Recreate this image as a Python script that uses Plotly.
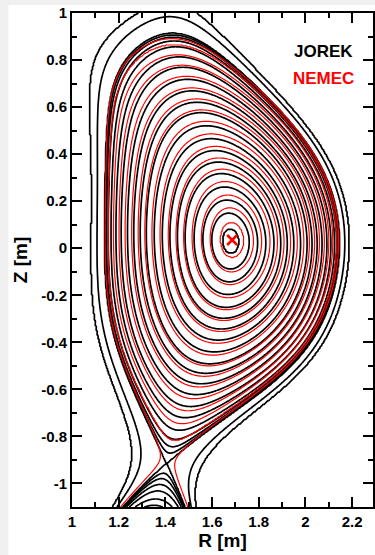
import numpy as np
import plotly.graph_objects as go

# ---------------- data ----------------
# JOREK (black): boundary shape points (R [m], Z [m])
jorek_outer = [2.145, 0.02]
jorek_inner = [1.140, 0.05]
jorek_top = [1.430, 0.913]
jorek_xpoint = [1.405, -0.915]
jorek_axis = [1.680, 0.030]
jorek_curv = [0.64, 0.09, 2.6]            # boundary curvature outer / inner / top
jorek_xtilt = [-12.5]                     # tilt of the X-point cross [deg]
# R [m] where the closed black surfaces cross the outer midplane
jorek_mid_R = [1.716, 1.759, 1.795, 1.830, 1.865, 1.894, 1.922, 1.950, 1.979,
               2.007, 2.028, 2.050, 2.071, 2.092, 2.109, 2.125]
jorek_edge = [0.95, 0.975, 0.99, 1.0]     # normalised flux of near-separatrix lines
# R [m] where open black lines cross Z = 0 on the high-field side
jorek_sol_R = [1.083, 1.107]

# NEMEC (red)
nemec_outer = [2.140, 0.03]
nemec_inner = [1.145, 0.05]
nemec_top = [1.430, 0.885]
nemec_xpoint = [1.410, -0.900]
nemec_axis = [1.686, 0.035]
nemec_curv = [0.66, 0.09, 2.2]
nemec_xtilt = [-12.5]
nemec_mid_R = [1.737, 1.777, 1.812, 1.848, 1.880, 1.908, 1.936, 1.965, 1.993,
               2.017, 2.039, 2.060, 2.081, 2.100, 2.117, 2.132]
nemec_leg = [1.01]                        # normalised flux of the red divertor-leg line

# JOREK computational-domain cut at bottom left (black lines end there)
domain_bl = [1.11, -1.02, -1.6]   # point (R, Z) and slope

# ---------------- 2-D Solov'ev-type equilibrium fit ----------------
COLS = ['cubic', (0, 1)] + [(n, w) for n in range(1, 7) for w in (1, -1j)] + [(7, 1)]


def col_eval(col, U, V, kind):
    U = np.asarray(U, dtype=float)
    V = np.asarray(V, dtype=float)
    if col == 'cubic':
        return {'f': U ** 3, 'u': 3 * U ** 2, 'v': 0 * U, 'uu': 6 * U,
                'vv': 0 * U, 'uv': 0 * U}[kind]
    n, w = col
    z = U + 1j * V
    zero = 0 * z
    if kind == 'f':
        val = w * z ** n
    elif kind == 'u':
        val = w * n * z ** (n - 1) if n >= 1 else zero
    elif kind == 'v':
        val = 1j * w * n * z ** (n - 1) if n >= 1 else zero
    elif kind == 'uu':
        val = w * n * (n - 1) * z ** (n - 2) if n >= 2 else zero
    elif kind == 'vv':
        val = -w * n * (n - 1) * z ** (n - 2) if n >= 2 else zero
    else:
        val = 1j * w * n * (n - 1) * z ** (n - 2) if n >= 2 else zero
    return np.real(val)


def part_eval(U, V, kind):
    U = np.asarray(U, dtype=float)
    return {'f': U * U, 'u': 2 * U, 'v': 0 * U, 'uu': 2 + 0 * U,
            'vv': 0 * U, 'uv': 0 * U}[kind]


def build_equilibrium(outer, inner, top, xpt, axis, curv, xtilt):
    R0 = 0.5 * (outer[0] + inner[0])
    a = 0.5 * (outer[0] - inner[0])
    nrm = lambda p: ((p[0] - R0) / a, p[1] / a)
    po, pi, pt, px, pa = map(nrm, (outer, inner, top, xpt, axis))
    co, ci, ct = curv
    rows, rhs = [], []

    def add(p, combo):
        rows.append([sum(c * col_eval(col, p[0], p[1], k) for k, c in combo)
                     for col in COLS])
        rhs.append(-sum(c * part_eval(p[0], p[1], k) for k, c in combo))

    for p in (po, pi, pt, px):
        add(p, [('f', 1)])
    add(po, [('v', 1)])
    add(pi, [('v', 1)])
    add(pt, [('u', 1)])
    add(px, [('u', 1)])
    add(px, [('v', 1)])
    add(po, [('vv', 1), ('u', -co)])
    add(pi, [('vv', 1), ('u', ci)])
    add(pt, [('uu', 1), ('v', -ct)])
    add(pa, [('u', 1)])
    add(pa, [('v', 1)])
    c, s = np.cos(np.radians(xtilt[0])), np.sin(np.radians(xtilt[0]))
    add(px, [('vv', c * s), ('uu', -c * s), ('uv', c * c - s * s)])
    coef = np.linalg.solve(np.array(rows, dtype=float), np.array(rhs, dtype=float))

    def psi(R, Z):
        U = (np.asarray(R, dtype=float) - R0) / a
        V = np.asarray(Z, dtype=float) / a
        out = part_eval(U, V, 'f')
        for cc, col in zip(coef, COLS):
            out = out + cc * col_eval(col, U, V, 'f')
        return out

    psi_ax = float(psi(axis[0], axis[1]))
    return lambda R, Z: (psi(R, Z) - psi_ax) / (0.0 - psi_ax)


def level_index(psin, levels):
    lv = np.unique(np.round(np.array(levels, dtype=float), 6))
    xp = np.concatenate([[-1e4], lv, [1e4]])
    fp = np.arange(-1, len(lv) + 1, dtype=float)
    return np.interp(psin, xp, fp), len(lv)


Rg = np.linspace(1.0, 2.29, 324)
Zg = np.linspace(-1.1, 1.0, 526)
RR, ZZ = np.meshgrid(Rg, Zg)

# black field
fj = build_equilibrium(jorek_outer, jorek_inner, jorek_top, jorek_xpoint,
                       jorek_axis, jorek_curv, jorek_xtilt)
psi_j = fj(RR, ZZ)
lev_j = [float(fj(r, jorek_axis[1])) for r in jorek_mid_R] + jorek_edge + \
        [float(fj(r, 0.0)) for r in jorek_sol_R]
idx_j, nj = level_index(psi_j, lev_j)
mask_j = ZZ < domain_bl[1] + domain_bl[2] * (RR - domain_bl[0])
idx_j = np.where(mask_j, np.nan, idx_j).astype(np.float32)

# red field
fn = build_equilibrium(nemec_outer, nemec_inner, nemec_top, nemec_xpoint,
                       nemec_axis, nemec_curv, nemec_xtilt)
psi_n = fn(RR, ZZ)
lev_n = [float(fn(r, nemec_axis[1])) for r in nemec_mid_R]
idx_n, nn = level_index(psi_n, lev_n)
idx_n = np.where(ZZ < nemec_xpoint[1], np.nan, idx_n).astype(np.float32)

fig = go.Figure()
fig.add_trace(go.Contour(
    x=Rg, y=Zg, z=idx_j, autocontour=False,
    contours=dict(start=0, end=nj - 1, size=1, coloring='lines'),
    colorscale=[[0, 'black'], [1, 'black']], showscale=False,
    line=dict(width=1.7), hoverinfo='skip'))
fig.add_trace(go.Contour(
    x=Rg, y=Zg, z=idx_n, autocontour=False,
    contours=dict(start=0, end=nn - 1, size=1, coloring='lines'),
    colorscale=[[0, 'red'], [1, 'red']], showscale=False,
    line=dict(width=1.2), hoverinfo='skip'))
fig.add_trace(go.Contour(
    x=Rg, y=Zg, z=psi_n.astype(np.float32), autocontour=False,
    contours=dict(start=nemec_leg[0], end=nemec_leg[0], size=1, coloring='lines'),
    colorscale=[[0, 'red'], [1, 'red']], showscale=False,
    line=dict(width=1.2), hoverinfo='skip'))
fig.add_trace(go.Scatter(
    x=[nemec_axis[0]], y=[nemec_axis[1]], mode='markers',
    marker=dict(symbol='x-thin', size=10, color='red',
                line=dict(color='red', width=2.5)),
    hoverinfo='skip', showlegend=False))

FONT = 'Liberation Sans'
x_ticks = [1, 1.2, 1.4, 1.6, 1.8, 2, 2.2]
y_ticks = [-1, -0.8, -0.6, -0.4, -0.2, 0, 0.2, 0.4, 0.6, 0.8, 1]

axis_common = dict(
    showline=True, linewidth=2, linecolor='black', mirror='ticks',
    ticks='inside', ticklen=10, tickwidth=2, tickcolor='black',
    showgrid=False, zeroline=False,
    tickfont=dict(family=FONT, size=15, color='black', weight='bold'),
)
fig.update_xaxes(
    range=[1.0, 2.2894], tickvals=x_ticks, ticktext=[f'{t:g}' for t in x_ticks],
    minor=dict(dtick=0.1, tick0=1.0, ticks='inside', ticklen=5, tickwidth=2,
               tickcolor='black'),
    title=dict(text='R [m]', font=dict(family=FONT, size=19, color='black',
                                        weight='bold'), standoff=4),
    **axis_common)
fig.update_yaxes(
    range=[-1.1, 1.0], tickvals=y_ticks, ticktext=[f'{t:g}' for t in y_ticks],
    minor=dict(dtick=0.1, tick0=0.0, ticks='inside', ticklen=5, tickwidth=2,
               tickcolor='black'),
    title=dict(text='Z [m]', font=dict(family=FONT, size=19, color='black',
                                        weight='bold'), standoff=8),
    **axis_common)

fig.add_annotation(x=2.078, y=0.835, text='JOREK', showarrow=False,
                   font=dict(family=FONT, size=17, color='black', weight='bold'))
fig.add_annotation(x=2.078, y=0.72, text='NEMEC', showarrow=False,
                   font=dict(family=FONT, size=17, color='red', weight='bold'))

fig.add_shape(type='rect', xref='paper', yref='paper',
              x0=(8 - 72) / 303, x1=1.05, y0=-0.12, y1=(507 - 5) / 494,
              fillcolor='white', line=dict(width=0), layer='below')

fig.update_layout(
    width=375, height=555, margin=dict(l=72, r=0, t=13, b=48),
    paper_bgcolor='#f0f0f0', plot_bgcolor='white', showlegend=False,
)
fig.write_html('out.html')
